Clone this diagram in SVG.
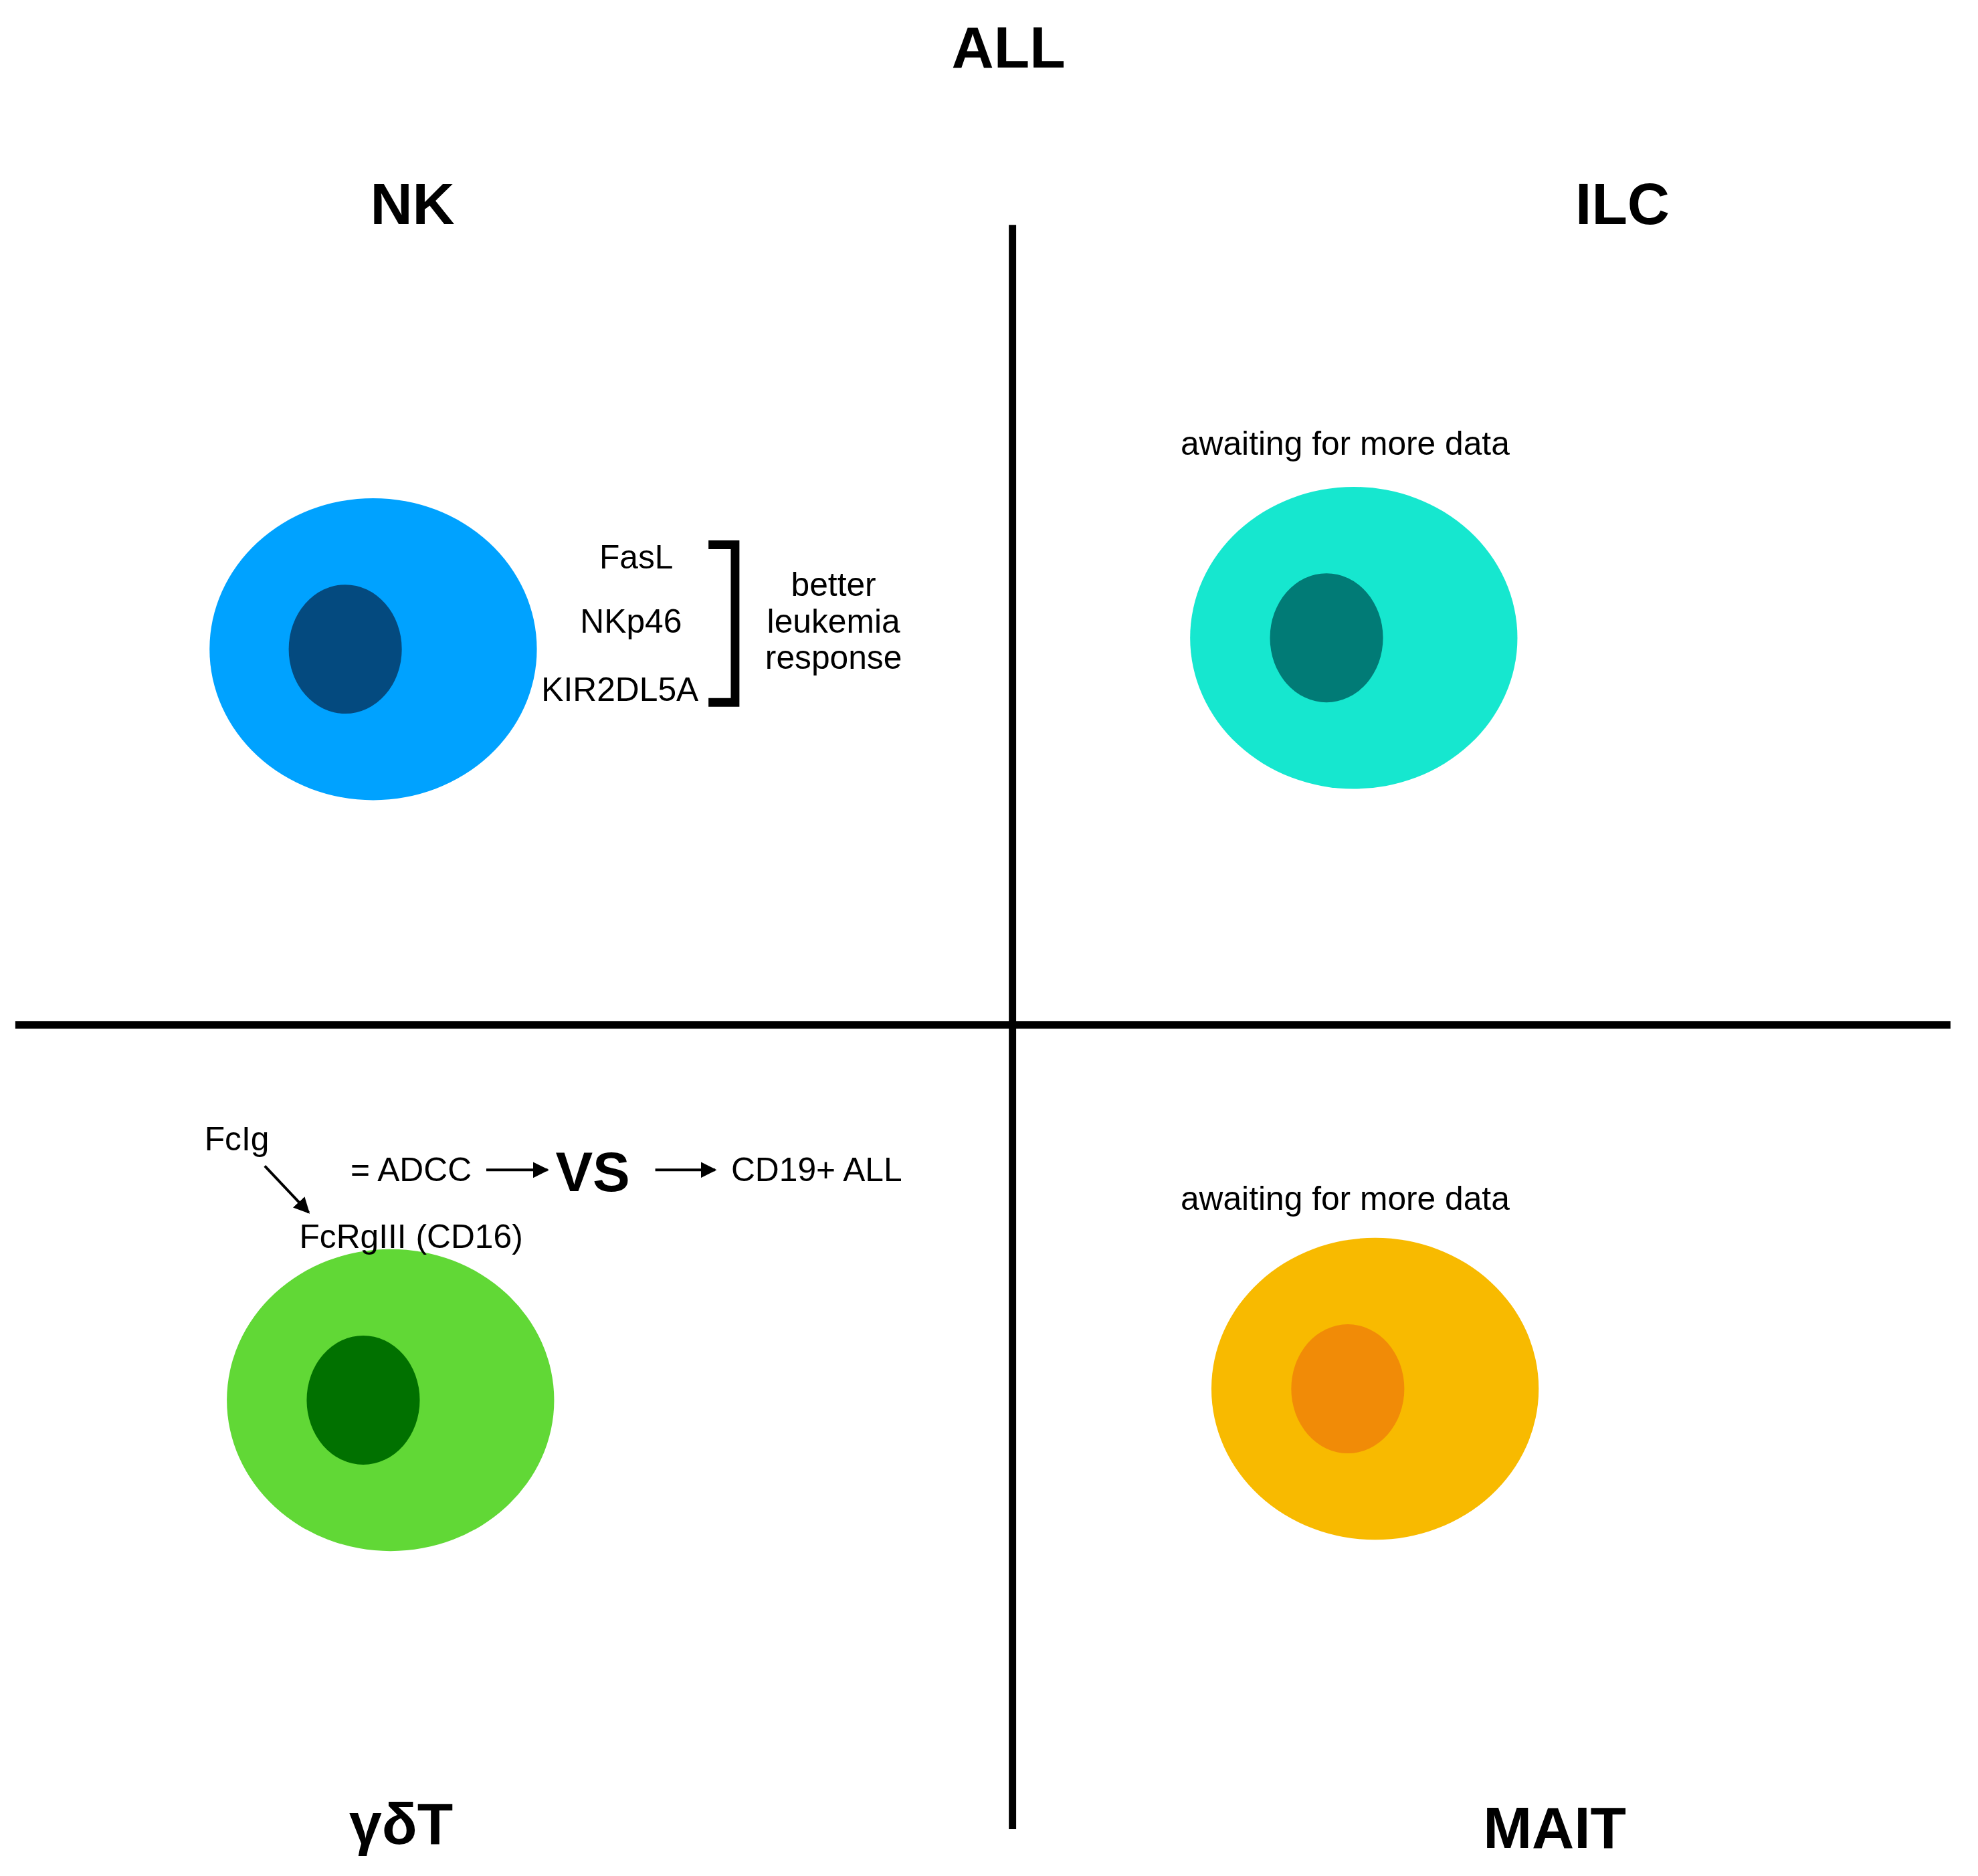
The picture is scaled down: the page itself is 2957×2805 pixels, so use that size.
<svg xmlns="http://www.w3.org/2000/svg" width="2957" height="2805" viewBox="0 0 2957 2805">
<style>
.t{font-family:"Liberation Sans",Arial,sans-serif;fill:#000}
.h{font-weight:bold;font-size:88px;text-anchor:middle}
.s{font-size:50px}
.ax{stroke:#000;stroke-width:11}
</style>
<defs>
<marker id="a2" viewBox="0 0 10 10" markerWidth="24" markerHeight="24" refX="9" refY="5" orient="auto" markerUnits="userSpaceOnUse"><path d="M0,0 L10,5 L0,10 z"/></marker></defs>
<rect width="2957" height="2805" fill="#fff"/>
<g transform="scale(0.9945)">
<text class="t h" x="1516" y="102">ALL</text>
<text class="t h" x="620" y="337">NK</text>
<text class="t h" x="2439" y="337">ILC</text>
<text class="t h" x="603" y="2772">γδT</text>
<text class="t h" x="2337" y="2778">MAIT</text>
<g id="axes"><line class="ax" x1="1522" y1="338" x2="1522" y2="2750"/><line class="ax" x1="23" y1="1541" x2="2932" y2="1541"/></g>
<g id="nk"><ellipse cx="561" cy="976" rx="246" ry="227" fill="#00A2FF"/><ellipse cx="519" cy="976" rx="85" ry="97" fill="#044A7F"/>
<text class="t s" x="1012" y="855" text-anchor="end">FasL</text>
<text class="t s" x="1025" y="951" text-anchor="end">NKp46</text>
<text class="t s" x="1050" y="1054" text-anchor="end">KIR2DL5A</text>
<path d="M1065,819 H1105 V1056 H1065" fill="none" stroke="#000" stroke-width="13"/>
<text class="t s" x="1253" y="896" text-anchor="middle">better</text>
<text class="t s" x="1253" y="951" text-anchor="middle">leukemia</text>
<text class="t s" x="1253" y="1006" text-anchor="middle">response</text></g>
<g id="ilc"><text class="t s" x="2022" y="684" text-anchor="middle">awaiting for more data</text>
<ellipse cx="2035" cy="959" rx="246" ry="227" fill="#16E7CF"/><ellipse cx="1994" cy="959" rx="85" ry="97" fill="#017B76"/></g>
<g id="gdt"><ellipse cx="587" cy="2105" rx="246" ry="227" fill="#61D836"/><ellipse cx="546" cy="2105" rx="85" ry="97" fill="#017100"/>
<text class="t s" x="356" y="1730" text-anchor="middle">FcIg</text>
<text class="t s" x="618" y="1876" text-anchor="middle">FcRgIII (CD16)</text>
<text class="t s" x="618" y="1776" text-anchor="middle">= ADCC</text>
<text class="t" x="891" y="1791" text-anchor="middle" style="font-weight:bold;font-size:84px">VS</text>
<text class="t s" x="1099" y="1776">CD19+ ALL</text></g>
<g id="mait"><text class="t s" x="2022" y="1819" text-anchor="middle">awaiting for more data</text>
<ellipse cx="2067" cy="2088" rx="246" ry="227" fill="#F8BA00"/><ellipse cx="2026" cy="2088" rx="85" ry="97" fill="#F18B07"/></g>
<g id="connectors" stroke="#000" stroke-width="4" fill="none">
<line x1="398" y1="1753" x2="464" y2="1823" marker-end="url(#a2)"/>
<line x1="731" y1="1759" x2="823" y2="1759" marker-end="url(#a2)"/>
<line x1="985" y1="1759" x2="1075" y2="1759" marker-end="url(#a2)"/>
</g>
</g>
</svg>
